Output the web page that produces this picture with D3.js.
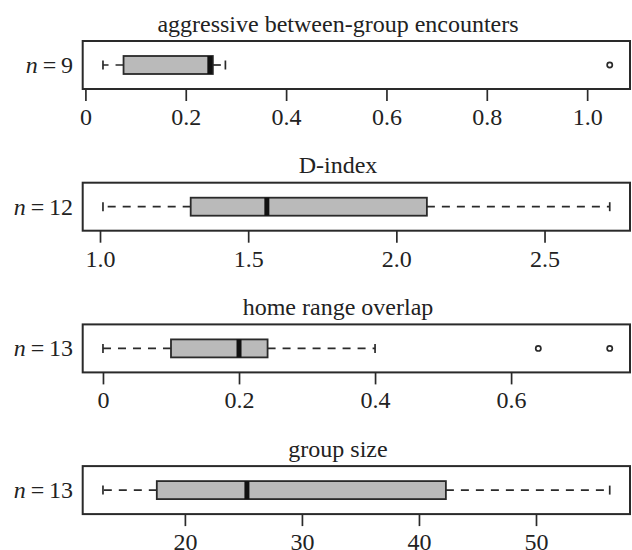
<!DOCTYPE html>
<html>
<head>
<meta charset="utf-8">
<script src="https://cdn.jsdelivr.net/npm/d3@7"></script>
<style>
  body { margin: 0; background: #fff; }
  svg text { font-family: "Liberation Serif", "DejaVu Serif", serif; fill: #222; }
</style>
</head>
<body>
<svg id="chart" width="632" height="550"></svg>
<script>
// panel data
const titles = ["aggressive between-group encounters", "D-index", "home range overlap", "group size"];
const counts = [9, 12, 13, 13];
const lowerWhisker = [0.035, 1.01, 0, 13.0];
const q1 = [0.076, 1.306, 0.10, 17.6];
const median = [0.248, 1.563, 0.20, 25.3];
const q3 = [0.254, 2.103, 0.242, 42.3];
const upperWhisker = [0.279, 2.72, 0.40, 56.3];
const outliers = [[1.045], [], [0.64, 0.745], []];
const tickValues = [[0, 0.2, 0.4, 0.6, 0.8, 1.0], [1.0, 1.5, 2.0, 2.5], [0, 0.2, 0.4, 0.6], [20, 30, 40, 50]];
const tickLabels = [["0", "0.2", "0.4", "0.6", "0.8", "1.0"], ["1.0", "1.5", "2.0", "2.5"], ["0", "0.2", "0.4", "0.6"], ["20", "30", "40", "50"]];

var left = 82.7, right = 630,
    firstTop = 41, step = 141.7,
    frameH = 48, boxH = 18,
    ink = "#2a2a2a";

var svg = d3.select("#chart");

titles.forEach(function (title, i) {
  var top = firstTop + i * step,
      cy = top + frameH / 2;

  // R style xlim: data range padded by 4%
  var all = [lowerWhisker[i], upperWhisker[i]].concat(outliers[i]);
  var ext = d3.extent(all), pad = (ext[1] - ext[0]) * 0.04;
  var x = d3.scaleLinear()
      .domain([ext[0] - pad, ext[1] + pad])
      .range([left, right]);

  var g = svg.append("g");

  g.append("text")
      .attr("x", 338)
      .attr("y", top - 9.5)
      .attr("text-anchor", "middle")
      .style("font-size", "24px")
      .text(title);

  // n label
  var nl = g.append("text")
      .attr("x", 73)
      .attr("y", cy + 8)
      .attr("text-anchor", "end")
      .style("font-size", "24px");
  nl.append("tspan").style("font-style", "italic").text("n");
  nl.append("tspan").text("\u2009=\u2009" + counts[i]);

  // whiskers, drawn from the box outwards
  [[q1[i], lowerWhisker[i]], [q3[i], upperWhisker[i]]].forEach(function (w) {
    g.append("line")
        .attr("x1", x(w[0])).attr("x2", x(w[1]))
        .attr("y1", cy).attr("y2", cy)
        .attr("stroke", ink)
        .attr("stroke-width", 1.7)
        .attr("stroke-dasharray", "8,7");
    g.append("line")
        .attr("x1", x(w[1])).attr("x2", x(w[1]))
        .attr("y1", cy - 4.5).attr("y2", cy + 4.5)
        .attr("stroke", ink)
        .attr("stroke-width", 1.7);
  });

  g.append("rect")
      .attr("x", x(q1[i]))
      .attr("y", cy - boxH / 2)
      .attr("width", x(q3[i]) - x(q1[i]))
      .attr("height", boxH)
      .attr("fill", "#bababa")
      .attr("stroke", ink)
      .attr("stroke-width", 1.8);

  g.append("line")
      .attr("x1", x(median[i])).attr("x2", x(median[i]))
      .attr("y1", cy - boxH / 2).attr("y2", cy + boxH / 2)
      .attr("stroke", "#111")
      .attr("stroke-width", 5);

  g.selectAll("circle")
      .data(outliers[i])
    .enter().append("circle")
      .attr("cx", function (d) { return x(d); })
      .attr("cy", cy)
      .attr("r", 2.6)
      .attr("fill", "none")
      .attr("stroke", ink)
      .attr("stroke-width", 1.7);

  // frame
  g.append("rect")
      .attr("x", left)
      .attr("y", top)
      .attr("width", right - left)
      .attr("height", frameH)
      .attr("fill", "none")
      .attr("stroke", ink)
      .attr("stroke-width", 2);

  var xAxis = d3.axisBottom(x)
      .tickValues(tickValues[i])
      .tickFormat(function (d, j) { return tickLabels[i][j]; })
      .tickSize(12)
      .tickPadding(0);

  var ax = g.append("g")
      .attr("transform", "translate(0," + (top + frameH) + ")")
      .call(xAxis);
  ax.select(".domain").remove();
  ax.selectAll(".tick line").attr("stroke", ink).attr("stroke-width", 1.7);
  ax.selectAll(".tick text")
      .attr("y", 36)
      .attr("dy", null)
      .attr("fill", "#222")
      .style("font-family", '"Liberation Serif", serif')
      .style("font-size", "24px");
});
</script>
</body>
</html>
